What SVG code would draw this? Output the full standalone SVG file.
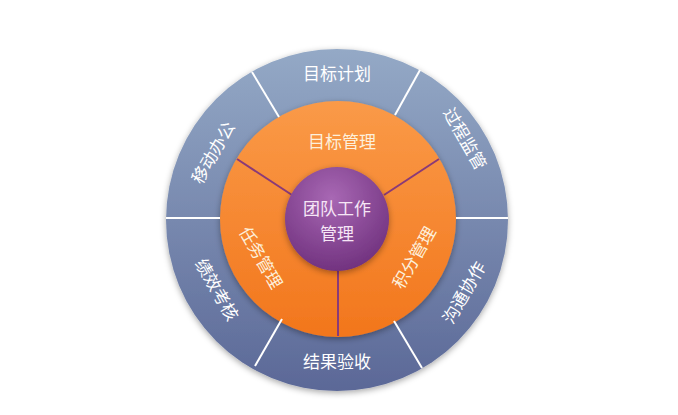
<svg xmlns="http://www.w3.org/2000/svg" width="678" height="415" viewBox="0 0 678 415">
<defs>
<linearGradient id="gb" x1="0" y1="0" x2="0" y2="1"><stop offset="0" stop-color="#94a9c6"/><stop offset="1" stop-color="#5b6897"/></linearGradient>
<linearGradient id="go" x1="0" y1="0" x2="0" y2="1"><stop offset="0" stop-color="#fa9a48"/><stop offset="1" stop-color="#f2761c"/></linearGradient>
<radialGradient id="gp" cx="0.45" cy="0.3" r="0.75"><stop offset="0" stop-color="#a868b4"/><stop offset="1" stop-color="#6e2f7c"/></radialGradient>
<filter id="sh" x="-20%" y="-20%" width="140%" height="140%"><feDropShadow dx="0" dy="2" stdDeviation="3" flood-opacity="0.35"/></filter>
</defs>
<style>
.t{font-family:"Noto Sans CJK SC",sans-serif;font-size:17px;text-anchor:middle;dominant-baseline:central}
.w{fill:#ffffff}.c{fill:#fdf0dc}.p{fill:#f6e6f6}
.ow{stroke:#ffffff;stroke-width:2}.pl{stroke:#8a3a78;stroke-width:2}
</style>
<rect width="678" height="415" fill="#ffffff"/>
<g id="outer">
<circle cx="337" cy="220" r="171" fill="url(#gb)" filter="url(#sh)"/>
</g>
<g id="middle">
<circle cx="338" cy="219" r="118" fill="url(#go)" filter="url(#sh)"/>
</g>
<g id="connectors">
<line class="ow" x1="166" y1="218" x2="220" y2="218"/>
<line class="ow" x1="456" y1="218" x2="508" y2="218"/>
<line class="ow" x1="252" y1="72" x2="279" y2="117"/>
<line class="ow" x1="420" y1="70" x2="395" y2="115"/>
<line class="ow" x1="282" y1="319" x2="255" y2="366"/>
<line class="ow" x1="394" y1="321" x2="422" y2="368"/>
<line class="pl" x1="338" y1="271" x2="338" y2="336"/>
<line class="pl" x1="237" y1="159" x2="292" y2="195"/>
<line class="pl" x1="439" y1="159" x2="384" y2="195"/>
</g>
<g id="center">
<circle cx="337" cy="219" r="52" fill="url(#gp)" filter="url(#sh)"/>
<text class="t p" x="337" y="207">团队工作</text>
<text class="t p" x="337" y="232">管理</text>
</g>
<g id="seg-mubiaoguanli"><text class="t c" x="342" y="140">目标管理</text></g>
<g id="seg-renwuguanli"><text class="t c" transform="translate(262,257) rotate(60)">任务管理</text></g>
<g id="seg-jifenguanli"><text class="t c" transform="translate(413,257) rotate(-60)">积分管理</text></g>
<g id="o-mubiaojihua"><text class="t w" x="337" y="72">目标计划</text></g>
<g id="o-guochengjianguan"><text class="t w" transform="translate(466,138) rotate(60)">过程监管</text></g>
<g id="o-goutongxiezuo"><text class="t w" transform="translate(463,292) rotate(-60)">沟通协作</text></g>
<g id="o-jieguoyanshou"><text class="t w" x="337" y="360">结果验收</text></g>
<g id="o-jixiaokaohe"><text class="t w" transform="translate(218,289) rotate(60)">绩效考核</text></g>
<g id="o-yidongbangong"><text class="t w" transform="translate(212,152) rotate(-60)">移动办公</text></g>
</svg>
